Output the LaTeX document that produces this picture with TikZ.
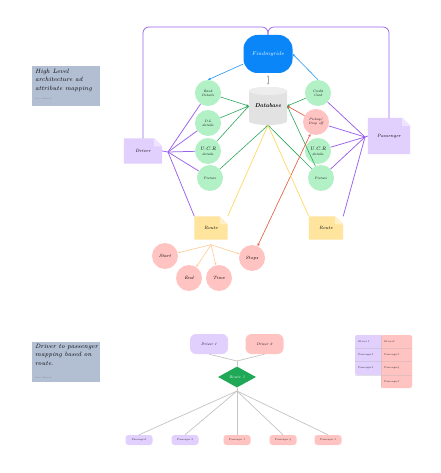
\documentclass[tikz,border=0pt]{standalone}
\usetikzlibrary{arrows.meta,shapes.geometric}
\definecolor{pline}{HTML}{9A62EC}
\definecolor{pfill}{HTML}{E1CFFD}
\definecolor{pfold}{HTML}{EFE4FF}
\definecolor{gfill}{HTML}{B2F0C6}
\definecolor{gline}{HTML}{2EA85C}
\definecolor{pinkf}{HTML}{FFC4C2}
\definecolor{rline}{HTML}{E4553A}
\definecolor{yline}{HTML}{FFD868}
\definecolor{yfill}{HTML}{FFE49E}
\definecolor{yfold}{HTML}{FFF0C8}
\definecolor{oline}{HTML}{FFCB98}
\definecolor{bfill}{HTML}{0A86F8}
\definecolor{bline}{HTML}{2196F3}
\definecolor{gbox}{HTML}{B2BED2}
\definecolor{dbg}{HTML}{E2E2E2}
\definecolor{dbt}{HTML}{EDEDED}
\definecolor{dgreen}{HTML}{1FA855}
\definecolor{glin}{HTML}{C4C4C4}
\pgfdeclarelayer{back}
\pgfdeclarelayer{bg}
\pgfsetlayers{back,bg,main}
\newcommand\notebg[3]{%
  \begin{pgfonlayer}{bg}
  \fill[#2] (#1.north west) -- ([xshift=-8pt]#1.north east) -- ([yshift=-8pt]#1.north east) -- (#1.south east) -- (#1.south west) -- cycle;
  \fill[#3] ([xshift=-8pt]#1.north east) -- ([yshift=-8pt]#1.north east) -- ([xshift=-8pt,yshift=-8pt]#1.north east) -- cycle;
  \end{pgfonlayer}}
\tikzset{
  tip/.style={-{Stealth[length=2.6pt,width=2.2pt]}},
  circ/.style={circle,fill=gfill,minimum size=26pt,inner sep=0pt,align=center,font=\fontsize{3.4}{4}\selectfont\itshape},
  pcirc/.style={circle,fill=pinkf,minimum size=26pt,inner sep=0pt,align=center,font=\fontsize{4.6}{5}\selectfont\itshape},
  notebox/.style={rectangle,inner sep=0pt,font=\fontsize{4.6}{5}\selectfont\itshape},
  pl/.style={draw=pline,line width=0.75pt},
  gl/.style={draw=gline,line width=0.6pt,tip},
  yl/.style={draw=yline,line width=0.7pt},
  ol/.style={draw=oline,line width=0.6pt,tip},
  grl/.style={draw=glin,line width=0.7pt},
  pill/.style={rectangle,rounded corners=3pt,minimum width=27pt,minimum height=10pt,inner sep=0pt,font=\fontsize{2.6}{3}\selectfont\itshape},
  dbox/.style={rectangle,rounded corners=6pt,minimum width=38pt,minimum height=20pt,inner sep=0pt,font=\fontsize{3.6}{4}\selectfont\itshape},
  gboxs/.style={rectangle,fill=gbox,minimum width=68pt,minimum height=40pt,inner sep=0pt},
  cell/.style={anchor=west,inner sep=0pt,font=\fontsize{2.6}{3}\selectfont\itshape},
}
\begin{document}
\begin{tikzpicture}[x=1pt,y=-1pt]
\begin{pgfonlayer}{back}
\fill[white] (0,0) rectangle (440,473);
\end{pgfonlayer}
\useasboundingbox (0,0) rectangle (440,473);

% ---------- text boxes ----------
\node[gboxs] (tb1) at (66,86) {};
\node[anchor=north west,align=left,inner sep=0pt,font=\fontsize{6.2}{8.4}\selectfont\itshape] (tb1t) at (35,69) {High Level\\architecture ad\\attribute mapping};
\node[anchor=west,inner sep=0pt,font=\fontsize{2.2}{3}\selectfont,text=black!45] (tb1s) at (35,99) {Sara Ahmed};
\node[gboxs] (tb2) at (66,362) {};
\node[anchor=north west,align=left,inner sep=0pt,font=\fontsize{6.2}{8.4}\selectfont\itshape] (tb2t) at (35,344) {Driver to passenger\\mapping based on\\route.};
\node[anchor=west,inner sep=0pt,font=\fontsize{2.2}{3}\selectfont,text=black!45] (tb2s) at (35,378) {Sara Ahmed};

% ---------- main nodes ----------
\node[rectangle,fill=bfill,rounded corners=14pt,minimum width=49pt,minimum height=38pt,inner sep=0pt,text=white,font=\fontsize{5.4}{6}\selectfont\itshape] (fmr) at (268,54) {Findmyride};

\fill[dbg] (249,91) -- (249,121) arc[start angle=180,end angle=0,x radius=19,y radius=4] -- (287,91) arc[start angle=0,end angle=-180,x radius=19,y radius=4] -- cycle;
\fill[dbt] (268,91) ellipse[x radius=19,y radius=4];
\node[rectangle,minimum width=38pt,minimum height=38pt,inner sep=0pt,font=\fontsize{5.8}{6}\selectfont\bfseries\itshape] (db) at (268,106) {Database};

\node[circ] (bank) at (208,93) {Bank\\Details};
\node[circ] (dl) at (208,123) {D.L\\details};
\node[circ,font=\fontsize{5}{4.6}\selectfont\itshape] (ucrl) at (208,151) {U.C.R\\{\fontsize{3.4}{4}\selectfont details}};
\node[circ] (picl) at (210,178) {Picture};

\node[circ] (credit) at (318,93) {Credit\\Card};
\node[circ,fill=pinkf] (pickup) at (316,122) {Pickup/\\Drop off};
\node[circ,font=\fontsize{5}{4.6}\selectfont\itshape] (ucrr) at (318,151) {U.C.R\\{\fontsize{3.4}{4}\selectfont details}};
\node[circ] (picr) at (321,178) {Picture};

\node[notebox,minimum width=38pt,minimum height=25pt] (driver) at (143,151) {\raisebox{-4pt}{Driver}};
\notebg{driver}{pfill}{pfold}
\node[notebox,minimum width=42pt,minimum height=36pt] (pass) at (389,136) {Passenger};
\notebg{pass}{pfill}{pfold}
\node[notebox,minimum width=33pt,minimum height=23pt] (routel) at (211,228) {\raisebox{-4pt}{Route}};
\notebg{routel}{yfill}{yfold}
\node[notebox,minimum width=34pt,minimum height=23pt] (router) at (326,228) {\raisebox{-4pt}{Route}};
\notebg{router}{yfill}{yfold}

\node[pcirc] (start) at (165,256) {Start};
\node[pcirc] (endn) at (189,278) {End};
\node[pcirc] (time) at (219,278) {Time};
\node[pcirc] (stops) at (252,258) {Stops};

% ---------- hubs ----------
\coordinate (dh) at (168,152);
\coordinate (ph) at (365,137);
\coordinate (topm) at (268,27);
\coordinate (rf) at ([yshift=-5pt]routel.south);

% top bracket
\draw[pl,rounded corners=6pt] (driver.north) |- (topm) -- (fmr.north);
\draw[pl,rounded corners=6pt] (pass.north) |- (topm) -- (fmr.north);

% purple hub lines
\draw[pl] (driver.east) -- (dh);
\foreach \n in {bank,dl,ucrl,picl} \draw[pl] (dh) -- (\n);
\draw[pl] (dh) -- (routel.north west);
\draw[pl] (pass.west) -- (ph);
\foreach \n in {credit,pickup,ucrr,picr} \draw[pl] (ph) -- (\n);
\draw[pl] (ph) -- (router.north east);

% blue arrows
\draw[draw=bline,line width=0.6pt,tip] ([yshift=-10pt]fmr.west) -- (bank.north);
\draw[draw=bline,line width=0.6pt,tip] (credit.north) -- (fmr.east);
% grey double arrow
\draw[draw=black!35,line width=0.5pt,{Stealth[length=2pt,width=1.8pt]}-{Stealth[length=2pt,width=1.8pt]}] ([yshift=-2pt]fmr.south) -- ([yshift=2pt]db.north);

% green arrows
\draw[gl] (bank) -- (db.west);
\draw[gl] (dl) -- (db.west);
\draw[gl] (ucrl) -- (db.west);
\draw[gl] (picl) -- (db.south);
\draw[gl] (credit) -- (db.east);
\draw[gl] (picr) -- (db.east);
\draw[gl] (picr) -- (db.south);

% red arrows
\draw[draw=rline,line width=0.6pt,tip] (pickup) -- (db.east);
\draw[draw=rline,line width=0.6pt,{Stealth[length=2.6pt,width=2.2pt]}-{Stealth[length=2.6pt,width=2.2pt]}] (pickup) -- (stops);

% yellow lines
\draw[yl] (db.south) -- (routel.north east);
\draw[yl] (db.south) -- (router.north west);

% route fan
\draw[ol] (rf) -- (start);
\draw[ol] (rf) -- (endn);
\draw[ol] (rf) -- (time);
\draw[ol] (rf) -- (stops);

% ---------- bottom mapping ----------
\node[dbox,fill=pfill] (d1) at (209,344) {Driver 1};
\node[dbox,fill=pinkf] (d2) at (264.5,344) {Driver 2};
\node[diamond,fill=dgreen,minimum width=38pt,minimum height=21pt,inner sep=0pt,text=white,font=\fontsize{4}{4}\selectfont\itshape] (r1) at (237,377) {Route 1};
\coordinate (j1) at (237,361);
\coordinate (j2) at (237,391);
\node[pill,fill=pfill] (p1) at (139,440) {Passenger1};
\node[pill,fill=pfill] (p2) at (185,440) {Passenger 2};
\node[pill,fill=pinkf] (p3) at (237,440) {Passenger 3};
\node[pill,fill=pinkf] (p4) at (283,440) {Passenger 4};
\node[pill,fill=pinkf] (p5) at (328,440) {Passenger 5};
\draw[grl] (d1.south) -- (j1);
\draw[grl] (d2.south) -- (j1);
\draw[grl] (j1) -- (r1.north);
\draw[grl] (r1.south) -- (j2);
\foreach \p in {p1,p2,p3,p4,p5} \draw[grl] (j2) -- (\p.north);

% ---------- table ----------
\fill[pinkf,rounded corners=2pt] (381,335) rectangle (412,388);
\fill[pfill,rounded corners=2pt] (355,335) -- (355,375) -- (381,375) -- (381,335) -- cycle;
\fill[pfill] (370,335) rectangle (381,375);
\draw[white!70!black,line width=0.3pt,draw opacity=0.35] (355,348) -- (412,348) (355,361) -- (412,361) (355,375) -- (412,375) (381,335) -- (381,388);
\node[cell] (c11) at (358,341.5) {Driver 1};
\node[cell] (c21) at (358,354.5) {Passenger1};
\node[cell] (c31) at (358,368) {Passenger2};
\node[cell] (c12) at (384,341.5) {Driver2};
\node[cell] (c22) at (384,354.5) {Passenger3};
\node[cell] (c32) at (384,368) {Passenger4};
\node[cell] (c42) at (384,381.5) {Passenger5};
\end{tikzpicture}
\end{document}
